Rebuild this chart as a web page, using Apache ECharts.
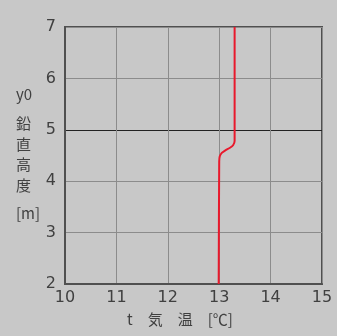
<!DOCTYPE html>
<html><head><meta charset="utf-8">
<script src="https://cdn.jsdelivr.net/npm/echarts@6/dist/echarts.min.js"></script>
<style>html,body{margin:0;padding:0;background:#c8c8c8}#c{width:337px;height:336px}</style>
</head><body><div id="c"></div>
<script>
var temps = [13.30, 13.30, 13.27, 13.21, 13.12, 13.05, 13.01, 13.00, 12.99];
var heights = [7.0, 4.78, 4.70, 4.65, 4.60, 4.55, 4.48, 4.38, 2.0];
var xTicks = [10, 11, 12, 13, 14, 15];
var yTicks = [2, 3, 4, 5, 6, 7];
var yNameParts = ['y0', '鉛', '直', '高', '度', '[m]'];
var xName = 't　気　温　[℃]';

var chart = echarts.init(document.getElementById('c'));
var font = '"Noto Sans CJK JP", sans-serif';
var numFont = '"DejaVu Sans", sans-serif';
var yPos = [97, 126, 147, 167, 188, 216];
var graphics = yNameParts.map(function (t, i) {
  return {type: 'text', left: 16, top: yPos[i] - 10,
    style: {text: t, font: '15px ' + font, fill: '#404040'}};
});
graphics.push({type: 'text', left: 127, top: 312,
  style: {text: xName, font: '15px ' + font, fill: '#404040'}});
chart.setOption({
  backgroundColor: '#c8c8c8',
  animation: false,
  grid: {left: 65, right: 15, top: 27, bottom: 52, show: true, borderColor: '#505050', borderWidth: 2, backgroundColor: 'transparent'},
  xAxis: {type: 'value', min: 10, max: 15, interval: 1,
    axisLine: {show: true, lineStyle: {color: '#505050', width: 2}},
    axisTick: {show: false},
    axisLabel: {fontFamily: numFont, fontSize: 16, color: '#404040', margin: 6},
    splitLine: {show: true, lineStyle: {color: '#8c8c8c', width: 1}}},
  yAxis: {type: 'value', min: 2, max: 7, interval: 1,
    axisLine: {show: true, lineStyle: {color: '#505050', width: 2}},
    axisTick: {show: false},
    axisLabel: {fontFamily: numFont, fontSize: 16, color: '#404040', margin: 9},
    splitLine: {show: true, lineStyle: {color: ['#8c8c8c', '#8c8c8c', '#8c8c8c', '#222222', '#8c8c8c', '#8c8c8c'], width: 1}}},
  graphic: graphics,
  series: [{type: 'line', data: temps.map(function (t, i) { return [t, heights[i]]; }),
    showSymbol: false, smooth: 0.2,
    lineStyle: {color: '#e8192c', width: 2}}]
});
</script></body></html>
